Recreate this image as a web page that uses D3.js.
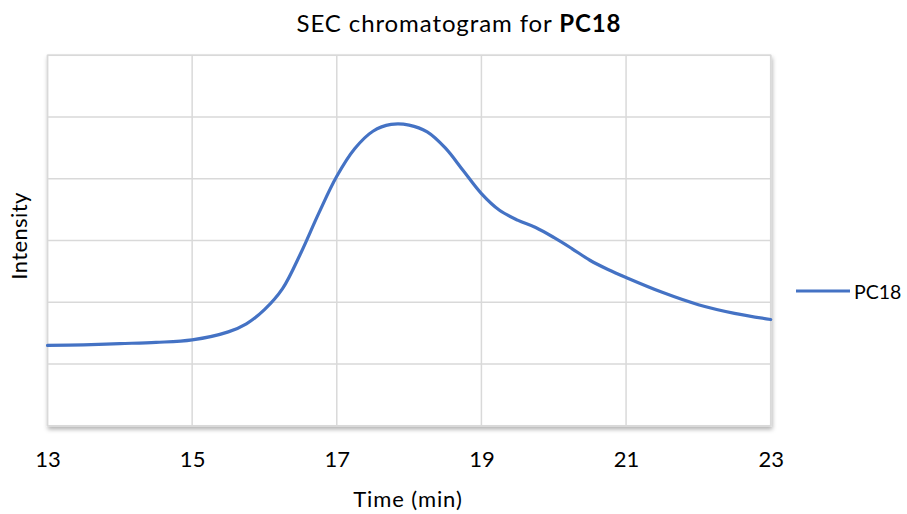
<!DOCTYPE html>
<html>
<head>
<meta charset="utf-8">
<script src="https://cdn.jsdelivr.net/npm/d3@7"></script>
<style>
  html, body { margin: 0; padding: 0; background: #fff; }
  svg { display: block; font-family: Lato, "Open Sans", sans-serif; }
</style>
</head>
<body>
<svg id="chart" width="907" height="514"></svg>
<script>
// Elution time (min) and detector intensity for PC18
const times = [13, 13.5, 14, 14.5, 15, 15.5, 15.75, 16, 16.25, 16.5, 16.75, 17, 17.25, 17.5, 17.75, 18,
               18.25, 18.5, 18.75, 19, 19.25, 19.5, 19.75, 20, 20.25, 20.5, 20.75, 21, 21.5, 22, 22.5, 23];
const intensity = [1.30, 1.31, 1.33, 1.35, 1.39, 1.52, 1.65, 1.88, 2.22, 2.79, 3.44, 4.04, 4.49, 4.77, 4.88, 4.87,
                   4.76, 4.50, 4.13, 3.76, 3.49, 3.33, 3.21, 3.05, 2.87, 2.68, 2.53, 2.40, 2.16, 1.96, 1.82, 1.72];
const xTicks = [13, 15, 17, 19, 21, 23];
const yTicks = [0, 1, 2, 3, 4, 5, 6];
const seriesName = "PC18";

const svg = d3.select("#chart");
const m = { left: 47.5, right: 770.7, top: 55.3, bottom: 425.7 };

const x = d3.scaleLinear().domain([13, 23]).range([m.left, m.right]);
const y = d3.scaleLinear().domain([0, 6]).range([m.bottom, m.top]);

// soft shadow under the plot frame
const defs = svg.append("defs");
const f = defs.append("filter").attr("id", "shadow")
  .attr("x", "-5%").attr("y", "-5%").attr("width", "110%").attr("height", "115%");
f.append("feDropShadow").attr("dx", 1).attr("dy", 3).attr("stdDeviation", 2)
  .attr("flood-color", "#000").attr("flood-opacity", 0.3);

svg.append("rect")
  .attr("x", m.left).attr("y", m.top)
  .attr("width", m.right - m.left).attr("height", m.bottom - m.top)
  .attr("fill", "#fff").attr("stroke", "#d9d9d9").attr("stroke-width", 1.5)
  .attr("filter", "url(#shadow)");

// gridlines
const grid = svg.append("g").attr("stroke", "#d9d9d9").attr("stroke-width", 1.5);
grid.selectAll("line.h").data(yTicks).join("line").attr("class", "h")
  .attr("x1", m.left).attr("x2", m.right)
  .attr("y1", d => y(d)).attr("y2", d => y(d));
grid.selectAll("line.v").data(xTicks).join("line").attr("class", "v")
  .attr("y1", m.top).attr("y2", m.bottom)
  .attr("x1", d => x(d)).attr("x2", d => x(d));

// x axis labels
const xAxis = d3.axisBottom(x).tickValues(xTicks).tickSize(0).tickPadding(0).tickFormat(d3.format("d"));
const xa = svg.append("g").attr("transform", `translate(0, ${m.bottom + 26})`).call(xAxis);
xa.select(".domain").remove();
xa.selectAll("text").attr("font-size", 22).attr("fill", "#000").attr("font-family", "Lato, sans-serif");

// data line
const data = times.map((t, i) => ({ t, v: intensity[i] }));
const line = d3.line().x(d => x(d.t)).y(d => y(d.v)).curve(d3.curveCatmullRom.alpha(0.5));
svg.append("path").datum(data)
  .attr("d", line)
  .attr("fill", "none").attr("stroke", "#4472c4").attr("stroke-width", 3.2)
  .attr("stroke-linecap", "round");

// title
const title = svg.append("text").attr("x", 459).attr("y", 31.5).attr("text-anchor", "middle")
  .attr("font-size", 24).attr("letter-spacing", 0.9).attr("fill", "#000");
title.append("tspan").text("SEC chromatogram for ");
title.append("tspan").attr("font-weight", "bold").text(seriesName);

// axis titles
svg.append("text").attr("x", 408).attr("y", 507).attr("text-anchor", "middle")
  .attr("font-size", 22).attr("letter-spacing", 0.9).attr("fill", "#000").text("Time (min)");
svg.append("text").attr("transform", "translate(27, 236) rotate(-90)").attr("text-anchor", "middle")
  .attr("font-size", 22).attr("letter-spacing", 0.4).attr("fill", "#000").text("Intensity");

// legend
const lg = svg.append("g").attr("transform", "translate(796, 291)");
lg.append("line").attr("x1", 0).attr("x2", 54).attr("y1", 0).attr("y2", 0)
  .attr("stroke", "#4472c4").attr("stroke-width", 3.2);
lg.append("text").attr("x", 58).attr("y", 7.5).attr("font-size", 19.5).attr("fill", "#000").text(seriesName);
</script>
</body>
</html>
